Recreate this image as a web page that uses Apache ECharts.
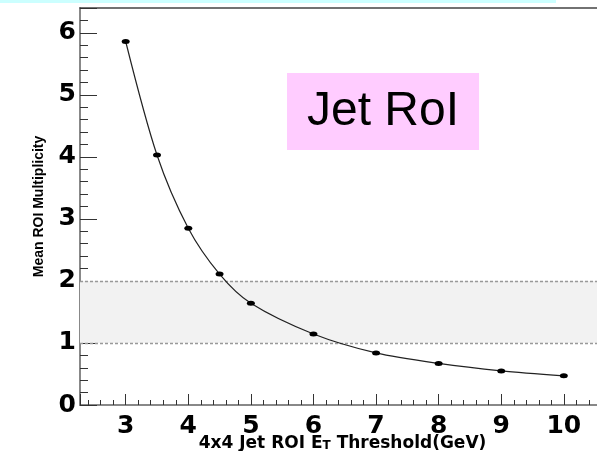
<!DOCTYPE html>
<html>
<head>
<meta charset="utf-8">
<script src="https://cdn.jsdelivr.net/npm/echarts@6/dist/echarts.min.js"></script>
<style>
html,body{margin:0;padding:0;background:#fff;}
#chart{width:597px;height:451px;}
</style>
</head>
<body>
<div id="chart"></div>
<script>
// Data
var thresholds = [3, 3.5, 4, 4.5, 5, 6, 7, 8, 9, 10];
var multiplicity = [5.86, 4.03, 2.85, 2.11, 1.64, 1.145, 0.84, 0.67, 0.55, 0.47];
var bandLow = 1;
var bandHigh = 2;
var boxTitle = 'Jet RoI';
var xTitle = '4x4 Jet ROI E';
var xTitleSub = 'T';
var xTitleRest = ' Threshold(GeV)';
var yTitle = 'Mean ROI Multiplicity';

var points = thresholds.map(function (x, i) { return [x, multiplicity[i]]; });

var chart = echarts.init(document.getElementById('chart'), null, {renderer: 'canvas'});
var intLabel = function (v) { return Math.abs(v - Math.round(v)) < 1e-6 ? String(Math.round(v)) : ''; };

chart.setOption({
  animation: false,
  backgroundColor: '#ffffff',
  graphic: [{
    type: 'rect', left: 0, top: 0, shape: {width: 556, height: 3},
    style: {fill: '#ccffff'}, silent: true
  }],
  title: {
    text: boxTitle,
    left: 287, top: 73,
    padding: [0, 20],
    backgroundColor: '#ffccff',
    textStyle: {fontFamily: 'Liberation Sans', fontSize: 48, fontWeight: 'normal', color: '#000', lineHeight: 77}
  },
  grid: {left: 80, right: 0, top: 8, bottom: 46, containLabel: false, outerBoundsMode: 'none'},
  xAxis: [{
    type: 'value', min: 2.27, max: 10.53, splitNumber: 8,
    axisLine: {show: true, onZero: false, lineStyle: {color: '#888', width: 2}},
    axisTick: {show: true, inside: true, length: 11, lineStyle: {color: '#333', width: 1}},
    minorTick: {show: true, splitNumber: 5, length: 5, lineStyle: {color: '#333', width: 1}},
    splitLine: {show: false},
    axisLabel: {formatter: intLabel, margin: 9, color: '#000', fontFamily: 'DejaVu Sans', fontWeight: 'bold', fontSize: 25},
    name: '{a|' + xTitle + '}{s|' + xTitleSub + '}{a|' + xTitleRest + '}',
    nameLocation: 'middle', nameGap: 27, nameMoveOverlap: false,
    nameTextStyle: {
      padding: [0, 0, 0, 8],
      rich: {
        a: {fontFamily: 'DejaVu Sans', fontWeight: 'bold', fontSize: 17, color: '#000', lineHeight: 20, verticalAlign: 'bottom'},
        s: {fontFamily: 'DejaVu Sans', fontWeight: 'bold', fontSize: 12, color: '#000', lineHeight: 12, padding: [10, 0, 0, 0], verticalAlign: 'bottom'}
      }
    }
  }, {
    type: 'value', position: 'top', min: 2.27, max: 10.53,
    axisLine: {show: true, onZero: false, lineStyle: {color: '#444', width: 1.5}},
    axisTick: {show: false}, axisLabel: {show: false}, splitLine: {show: false}
  }],
  yAxis: {
    type: 'value', min: 0, max: 6.4, interval: 1,
    axisLine: {show: true, lineStyle: {color: '#888', width: 2}},
    axisTick: {show: true, inside: true, length: 17, lineStyle: {color: '#333', width: 1}},
    minorTick: {show: true, splitNumber: 5, length: 8, lineStyle: {color: '#333', width: 1}},
    splitLine: {show: false},
    axisLabel: {formatter: intLabel, margin: 4, padding: [8, 0, 0, 0], color: '#000', fontFamily: 'DejaVu Sans', fontWeight: 'bold', fontSize: 25},
    name: yTitle, nameLocation: 'middle', nameGap: 34, nameMoveOverlap: false,
    nameTextStyle: {fontFamily: 'Liberation Sans', fontWeight: 'bold', fontSize: 14, color: '#000'}
  },
  series: [{
    type: 'line',
    data: points,
    smooth: 0.3,
    symbol: 'circle',
    symbolSize: [8, 5],
    itemStyle: {color: '#000'},
    lineStyle: {color: '#222', width: 1.2},
    z: 5,
    markArea: {
      silent: true,
      itemStyle: {color: '#f2f2f2'},
      data: [[{yAxis: bandLow}, {yAxis: bandHigh}]]
    },
    markLine: {
      silent: true, symbol: 'none', label: {show: false},
      lineStyle: {color: '#999', type: [3, 2], width: 1.3},
      data: [{yAxis: bandLow}, {yAxis: bandHigh}]
    }
  }]
});
</script>
</body>
</html>
